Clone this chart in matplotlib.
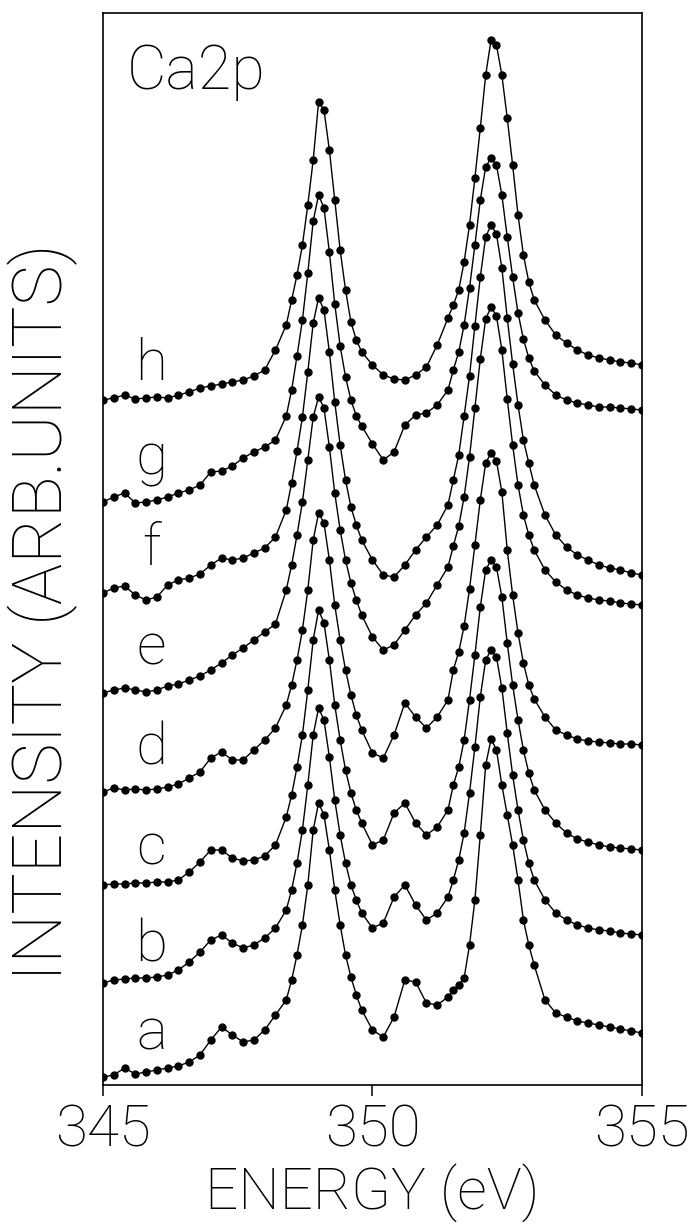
import numpy as np
import matplotlib.pyplot as plt

plt.rcParams['font.family'] = ['Roboto', 'DejaVu Sans']
plt.rcParams['font.weight'] = 'light'

# energy grid (eV)
energy = [345.0, 345.2, 345.4, 345.6, 345.8, 346.0, 346.2, 346.4, 346.6, 346.8,
          347.0, 347.2, 347.4, 347.6, 347.8, 348.0, 348.2, 348.4,
          348.5, 348.6, 348.7, 348.8, 348.9, 349.0, 349.1, 349.2, 349.3, 349.4,
          349.5, 349.6, 349.7, 349.8,
          350.0, 350.2, 350.4, 350.6, 350.8, 351.0, 351.2, 351.4,
          351.5, 351.6, 351.7, 351.8, 351.9, 352.0, 352.1, 352.2, 352.3, 352.4,
          352.5, 352.6, 352.7, 352.8, 352.9, 353.0,
          353.2, 353.4, 353.6, 353.8, 354.0, 354.2, 354.4, 354.6, 354.8, 355.0]

# stacked spectra, arb. units (offsets included)
spec_h = [685, 687, 690, 686, 687, 688, 687, 690, 693, 697, 699, 701, 703, 705, 709, 715, 735, 760,
          785, 810, 840, 880, 925, 983, 975, 935, 885, 835, 795, 763, 745, 733,
          720, 710, 706, 705, 710, 718, 740, 767,
          780, 795, 823, 860, 907, 957, 1010, 1045, 1040, 1010, 967, 920, 870, 830, 803, 785,
          765, 750, 742, 735, 730, 727, 725, 723, 722, 720]
spec_g = [583, 588, 592, 582, 583, 585, 588, 592, 595, 600, 613, 614, 619, 627, 633, 638, 645, 669,
          695, 729, 765, 812, 864, 890, 877, 833, 781, 739, 708, 685, 669, 659,
          641, 625, 633, 660, 670, 672, 680, 695,
          715, 733, 760, 797, 840, 885, 918, 927, 920, 890, 848, 808, 772, 746, 727, 714,
          700, 690, 685, 682, 680, 678, 678, 677, 676, 675]
spec_f = [492, 497, 499, 490, 485, 488, 500, 505, 507, 511, 520, 527, 525, 527, 532, 537, 548, 575,
          602, 634, 668, 713, 762, 787, 775, 733, 683, 640, 605, 578, 560, 545,
          525, 510, 508, 520, 535, 548, 560, 580,
          605, 630, 669, 709, 759, 808, 848, 860, 851, 817, 767, 721, 680, 645, 622, 600,
          570, 550, 538, 530, 525, 520, 517, 515, 512, 510]
spec_e = [392, 395, 397, 395, 393, 395, 399, 401, 405, 409, 415, 422, 430, 437, 445, 453, 461, 495,
          520, 550, 583, 625, 668, 688, 677, 638, 592, 555, 525, 502, 485, 470,
          448, 435, 440, 455, 470, 482, 500, 518,
          539, 559, 588, 628, 677, 726, 766, 778, 769, 735, 686, 640, 600, 570, 550, 535,
          515, 503, 495, 490, 487, 485, 484, 482, 481, 480]
spec_d = [293, 297, 295, 296, 295, 296, 298, 301, 307, 313, 327, 333, 325, 325, 335, 345, 357, 380,
          400, 425, 455, 495, 545, 572, 562, 525, 480, 445, 415, 390, 370, 355,
          332, 327, 350, 382, 368, 357, 368, 385,
          415, 433, 459, 496, 540, 585, 622, 632, 624, 593, 535, 490, 452, 422, 400, 386,
          368, 355, 350, 346, 344, 343, 342, 341, 341, 340]
spec_c = [200, 201, 201, 202, 202, 203, 203, 205, 213, 223, 235, 235, 227, 224, 225, 229, 240, 268,
          290, 318, 350, 395, 445, 475, 462, 425, 380, 345, 315, 292, 275, 262,
          240, 245, 272, 282, 262, 250, 258, 275,
          300, 318, 345, 385, 430, 478, 515, 525, 518, 488, 442, 400, 365, 335, 312, 295,
          275, 262, 252, 246, 243, 240, 238, 237, 236, 235]
spec_b = [102, 105, 106, 107, 107, 108, 110, 115, 123, 133, 145, 150, 142, 137, 140, 147, 157, 175,
          195, 222, 255, 300, 350, 377, 365, 328, 285, 250, 222, 200, 185, 172,
          157, 162, 188, 200, 180, 165, 172, 188,
          205, 225, 252, 292, 338, 388, 425, 435, 428, 397, 352, 310, 275, 245, 222, 205,
          185, 172, 165, 160, 157, 155, 154, 152, 151, 150]
spec_a = [8, 10, 17, 11, 13, 15, 17, 19, 23, 30, 45, 58, 50, 43, 45, 55, 70, 85,
          105, 130, 160, 200, 255, 282, 270, 235, 195, 160, 130, 108, 90, 75,
          55, 48, 68, 105, 103, 82, 80, 88,
          95, 100, 107, 140, 185, 250, 320, 346, 335, 300, 270, 240, 205, 165, 140, 120,
          85, 72, 68, 64, 62, 60, 58, 56, 54, 52]

labels = ['a', 'b', 'c', 'd', 'e', 'f', 'g', 'h']
label_y = [35, 123, 220, 320, 420, 520, 610, 705]
spectra = [spec_a, spec_b, spec_c, spec_d, spec_e, spec_f, spec_g, spec_h]

fig = plt.figure(figsize=(6.93, 12.25), dpi=100)
ax = fig.add_axes([0.1486, 0.1143, 0.7778, 0.8751])

for spec in spectra:
    ax.plot(energy, spec, '-', color='black', lw=1.0,
            marker='o', ms=5, mfc='black', mec='black')

for lab, ly in zip(labels, label_y):
    ax.text(345.9, ly, lab, fontsize=42, ha='center', va='baseline')

ax.text(0.045, 0.929, 'Ca2p', transform=ax.transAxes, fontsize=44, va='baseline')

ax.set_xlim(345, 355)
ax.set_ylim(0, 1072)
ax.set_xticks([345, 350, 355])
ax.set_xticklabels(['345', '350', '355'])
ax.set_yticks([])
ax.tick_params(axis='x', direction='out', length=8, width=1.1, labelsize=42, pad=5)
for s in ax.spines.values():
    s.set_linewidth(1.2)

ax.set_xlabel('ENERGY (eV)', fontsize=42, fontweight='light', labelpad=4)
fig.text(0.062, 0.50, 'INTENSITY (ARB.UNITS)', rotation=90, fontsize=50,
         fontweight='light', ha='center', va='center')

fig.savefig('out.png', dpi=100)
